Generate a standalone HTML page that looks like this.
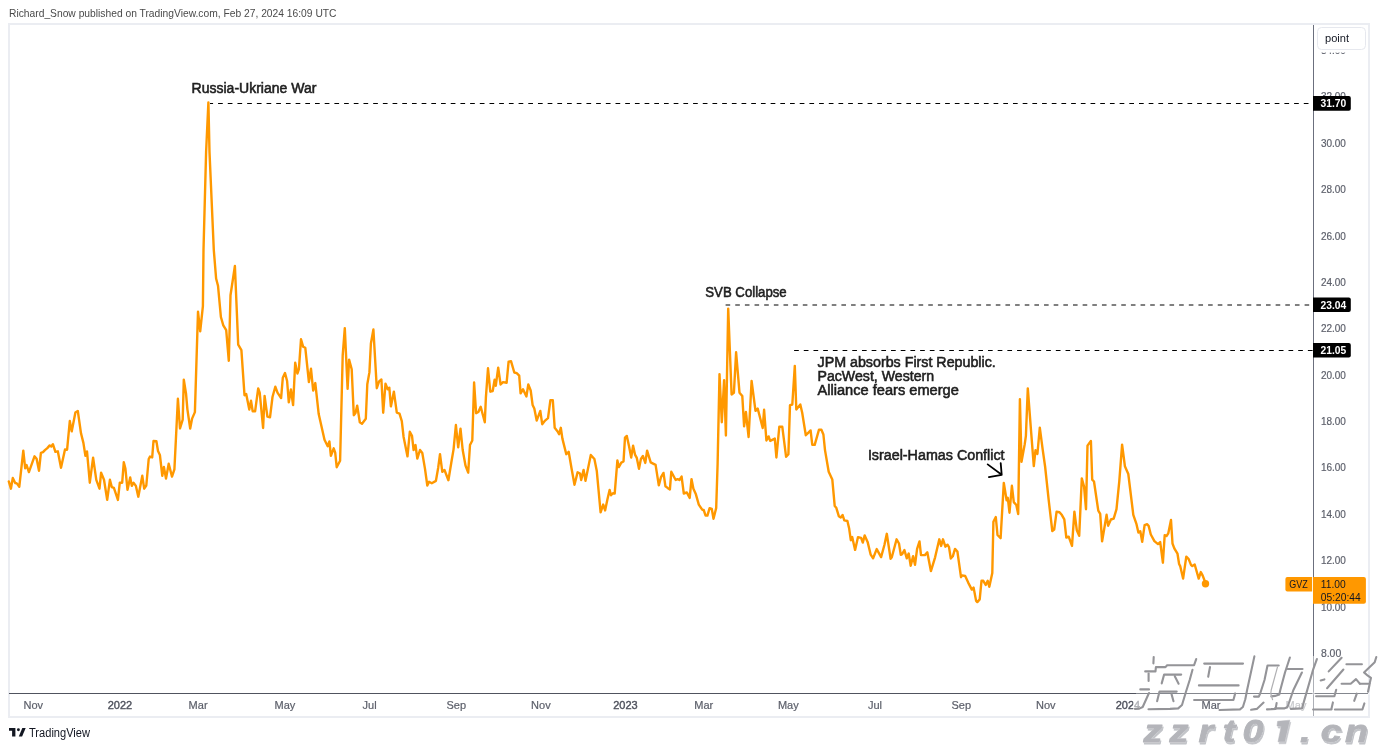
<!DOCTYPE html>
<html><head><meta charset="utf-8"><title>GVZ</title>
<style>
html,body{margin:0;padding:0;background:#fff;}
body{width:1378px;height:748px;overflow:hidden;position:relative;font-family:"Liberation Sans",sans-serif;}
svg{position:absolute;left:0;top:0;}
svg text{font-family:"Liberation Sans",sans-serif;}
</style></head><body>
<svg width="1378" height="748" viewBox="0 0 1378 748">
<defs>
<filter id="wm2" x="-5%" y="-20%" width="110%" height="150%">
  <feOffset in="SourceAlpha" dx="1.3" dy="1.5" result="o"/>
  <feComposite in="o" in2="SourceAlpha" operator="out" result="s"/>
  <feColorMatrix in="s" type="matrix" values="0 0 0 0 0.54  0 0 0 0 0.55  0 0 0 0 0.58  0 0 0 1 0" result="sc"/>
  <feMerge><feMergeNode in="sc"/><feMergeNode in="SourceGraphic"/></feMerge>
</filter>
<filter id="bl" x="-5%" y="-5%" width="110%" height="110%"><feGaussianBlur stdDeviation="0.75"/></filter>
<filter id="n" x="-2%" y="-20%" width="104%" height="140%"><feOffset dx="0" dy="0"/></filter>
</defs>
<rect x="0" y="0" width="1378" height="748" fill="#fff"/>
<!-- header -->
<text filter="url(#n)" x="9" y="16.7" font-size="11" fill="#4a4a4a" textLength="327.5" lengthAdjust="spacingAndGlyphs">Richard_Snow published on TradingView.com, Feb 27, 2024 16:09 UTC</text>
<!-- frame -->
<rect x="9" y="24" width="1360" height="693" fill="none" stroke="#ebedf2" stroke-width="2"/>

<text filter="url(#n)" x="1320.9" y="53.9" font-size="11" fill="#5d606b" stroke="#5d606b" stroke-width="0.2" textLength="25" lengthAdjust="spacingAndGlyphs">34.00</text>
<text filter="url(#n)" x="1320.9" y="100.3" font-size="11" fill="#5d606b" stroke="#5d606b" stroke-width="0.2" textLength="25" lengthAdjust="spacingAndGlyphs">32.00</text>
<text filter="url(#n)" x="1320.9" y="146.7" font-size="11" fill="#5d606b" stroke="#5d606b" stroke-width="0.2" textLength="25" lengthAdjust="spacingAndGlyphs">30.00</text>
<text filter="url(#n)" x="1320.9" y="193.1" font-size="11" fill="#5d606b" stroke="#5d606b" stroke-width="0.2" textLength="25" lengthAdjust="spacingAndGlyphs">28.00</text>
<text filter="url(#n)" x="1320.9" y="239.5" font-size="11" fill="#5d606b" stroke="#5d606b" stroke-width="0.2" textLength="25" lengthAdjust="spacingAndGlyphs">26.00</text>
<text filter="url(#n)" x="1320.9" y="285.8" font-size="11" fill="#5d606b" stroke="#5d606b" stroke-width="0.2" textLength="25" lengthAdjust="spacingAndGlyphs">24.00</text>
<text filter="url(#n)" x="1320.9" y="332.2" font-size="11" fill="#5d606b" stroke="#5d606b" stroke-width="0.2" textLength="25" lengthAdjust="spacingAndGlyphs">22.00</text>
<text filter="url(#n)" x="1320.9" y="378.6" font-size="11" fill="#5d606b" stroke="#5d606b" stroke-width="0.2" textLength="25" lengthAdjust="spacingAndGlyphs">20.00</text>
<text filter="url(#n)" x="1320.9" y="425.0" font-size="11" fill="#5d606b" stroke="#5d606b" stroke-width="0.2" textLength="25" lengthAdjust="spacingAndGlyphs">18.00</text>
<text filter="url(#n)" x="1320.9" y="471.4" font-size="11" fill="#5d606b" stroke="#5d606b" stroke-width="0.2" textLength="25" lengthAdjust="spacingAndGlyphs">16.00</text>
<text filter="url(#n)" x="1320.9" y="517.7" font-size="11" fill="#5d606b" stroke="#5d606b" stroke-width="0.2" textLength="25" lengthAdjust="spacingAndGlyphs">14.00</text>
<text filter="url(#n)" x="1320.9" y="564.1" font-size="11" fill="#5d606b" stroke="#5d606b" stroke-width="0.2" textLength="25" lengthAdjust="spacingAndGlyphs">12.00</text>
<text filter="url(#n)" x="1320.9" y="610.5" font-size="11" fill="#5d606b" stroke="#5d606b" stroke-width="0.2" textLength="25" lengthAdjust="spacingAndGlyphs">10.00</text>
<text filter="url(#n)" x="1320.9" y="656.9" font-size="11" fill="#5d606b" stroke="#5d606b" stroke-width="0.2" textLength="20.3" lengthAdjust="spacingAndGlyphs">8.00</text>
<rect x="1314" y="26" width="53" height="26.6" fill="#fff"/>
<rect x="1317.5" y="27.5" width="48" height="22" rx="4" ry="4" fill="#fff" stroke="#e6e8ee" stroke-width="1"/>
<text filter="url(#n)" x="1325" y="41.8" font-size="11" fill="#131722" textLength="24" lengthAdjust="spacingAndGlyphs">point</text>
<text filter="url(#n)" x="33.3" y="709" font-size="11" fill="#5d606b" text-anchor="middle" stroke="#5d606b" stroke-width="0.2">Nov</text>
<text filter="url(#n)" x="120" y="709" font-size="11" fill="#50535e" text-anchor="middle" stroke="#50535e" stroke-width="0.4">2022</text>
<text filter="url(#n)" x="198.1" y="709" font-size="11" fill="#5d606b" text-anchor="middle" stroke="#5d606b" stroke-width="0.2">Mar</text>
<text filter="url(#n)" x="284.9" y="709" font-size="11" fill="#5d606b" text-anchor="middle" stroke="#5d606b" stroke-width="0.2">May</text>
<text filter="url(#n)" x="369.6" y="709" font-size="11" fill="#5d606b" text-anchor="middle" stroke="#5d606b" stroke-width="0.2">Jul</text>
<text filter="url(#n)" x="456.3" y="709" font-size="11" fill="#5d606b" text-anchor="middle" stroke="#5d606b" stroke-width="0.2">Sep</text>
<text filter="url(#n)" x="540.9" y="709" font-size="11" fill="#5d606b" text-anchor="middle" stroke="#5d606b" stroke-width="0.2">Nov</text>
<text filter="url(#n)" x="625.4" y="709" font-size="11" fill="#50535e" text-anchor="middle" stroke="#50535e" stroke-width="0.4">2023</text>
<text filter="url(#n)" x="703.8" y="709" font-size="11" fill="#5d606b" text-anchor="middle" stroke="#5d606b" stroke-width="0.2">Mar</text>
<text filter="url(#n)" x="788.3" y="709" font-size="11" fill="#5d606b" text-anchor="middle" stroke="#5d606b" stroke-width="0.2">May</text>
<text filter="url(#n)" x="875" y="709" font-size="11" fill="#5d606b" text-anchor="middle" stroke="#5d606b" stroke-width="0.2">Jul</text>
<text filter="url(#n)" x="961.3" y="709" font-size="11" fill="#5d606b" text-anchor="middle" stroke="#5d606b" stroke-width="0.2">Sep</text>
<text filter="url(#n)" x="1045.8" y="709" font-size="11" fill="#5d606b" text-anchor="middle" stroke="#5d606b" stroke-width="0.2">Nov</text>
<text filter="url(#n)" x="1128" y="709" font-size="11" fill="#50535e" text-anchor="middle" stroke="#50535e" stroke-width="0.4">2024</text>
<text filter="url(#n)" x="1211" y="709" font-size="11" fill="#5d606b" text-anchor="middle" stroke="#5d606b" stroke-width="0.2">Mar</text>
<text filter="url(#n)" x="1296" y="709" font-size="11" fill="#5d606b" text-anchor="middle" stroke="#5d606b" stroke-width="0.2">May</text>
<line x1="9" y1="693.5" x2="1368" y2="693.5" stroke="#50535e" stroke-width="1"/>
<line x1="1313.5" y1="25" x2="1313.5" y2="716" stroke="#6b6f7d" stroke-width="1"/>
<line x1="210" y1="103.5" x2="1313" y2="103.5" stroke="#000" stroke-width="1" stroke-dasharray="4.7 4.994" stroke-dashoffset="1.62"/>
<line x1="725.6" y1="305" x2="1313" y2="305" stroke="#000" stroke-width="1" stroke-dasharray="4.6 5.05"/>
<line x1="794.1" y1="350.5" x2="1313" y2="350.5" stroke="#000" stroke-width="1" stroke-dasharray="4.7 4.994"/>
<polyline points="8.8,481.4 10.9,488.7 12.8,477.9 15.2,483.0 16.8,483.4 19.3,486.7 23.3,450.6 25.2,468.3 26.6,465.0 28.9,472.1 34.5,456.3 36.6,458.7 39.0,470.7 40.9,452.9 43.0,452.2 44.9,450.2 47.3,448.1 49.7,445.4 51.3,446.5 52.9,444.2 55.4,451.8 57.8,451.3 61.0,467.8 65.0,449.4 67.1,449.7 69.8,421.0 71.7,431.4 75.4,412.5 77.8,410.9 81.0,433.3 83.4,442.9 85.4,455.8 87.0,451.4 89.8,482.7 93.1,457.7 96.3,479.8 99.5,488.7 101.1,472.6 104.0,479.8 107.2,499.9 109.9,479.8 111.8,487.1 113.9,487.9 117.9,499.9 119.8,482.7 122.2,482.7 123.8,462.2 125.4,468.6 127.5,489.8 130.2,477.4 131.8,485.9 133.5,482.7 135.9,485.9 138.3,496.7 142.3,475.8 144.2,488.7 146.3,485.5 148.7,459.0 150.0,456.6 152.2,457.4 153.5,441.0 156.4,441.3 158.0,451.0 159.9,455.0 162.3,475.8 163.9,467.0 166.0,478.6 168.7,463.8 172.0,476.6 174.4,469.4 177.9,398.8 180.0,428.5 182.7,419.7 183.8,379.6 186.0,393.4 187.4,409.3 190.2,428.5 192.1,418.6 194.9,412.1 198.0,311.7 200.2,331.4 202.9,306.2 203.5,250.0 206.1,152.0 208.4,102.4 209.5,152.0 213.8,250.0 216.1,278.5 218.0,285.7 220.9,317.0 223.3,325.4 226.2,330.2 228.8,360.8 230.5,295.3 234.9,266.0 238.2,344.7 241.4,350.2 244.5,395.2 246.2,394.0 249.3,409.6 251.0,400.7 252.7,411.3 255.1,411.3 258.2,388.4 259.7,392.7 263.1,428.0 264.6,395.9 267.4,416.7 270.0,417.3 272.5,397.0 275.3,386.7 277.5,392.7 281.1,398.1 282.8,377.8 285.0,373.0 287.1,381.0 288.8,402.4 290.9,389.5 293.1,405.1 295.2,362.8 297.4,373.5 298.9,369.2 301.0,339.3 303.1,346.7 305.3,347.8 308.9,382.0 311.0,368.8 313.2,390.6 315.3,383.1 318.7,414.1 324.5,439.8 327.7,446.2 329.4,441.5 330.9,455.8 333.7,448.3 335.2,452.6 336.7,467.2 340.1,460.7 342.7,355.3 344.8,328.1 347.6,388.9 349.1,359.6 351.7,369.2 353.8,415.2 355.5,413.0 357.2,405.6 359.8,422.2 362.0,423.7 365.8,418.8 367.3,384.2 369.4,372.4 370.9,343.5 373.4,329.5 376.8,388.2 379.1,381.4 381.4,379.5 383.2,412.7 385.5,383.6 387.7,389.3 389.3,387.7 390.9,406.4 393.9,391.6 396.8,412.7 399.5,413.6 401.8,421.1 403.6,437.0 407.5,456.4 409.8,431.8 412.0,435.9 413.6,450.0 415.5,445.0 417.3,458.6 420.0,450.0 422.3,453.0 425.0,468.9 427.3,485.5 429.1,481.8 431.8,483.2 435.9,480.9 438.2,467.7 440.0,454.1 442.3,471.8 444.5,470.0 448.4,480.2 451.4,462.0 453.6,449.1 455.9,425.0 458.2,447.3 460.5,428.6 462.7,450.0 465.5,465.5 468.2,472.7 470.0,445.0 472.3,440.5 474.1,382.5 476.1,413.2 478.4,412.0 480.7,406.8 483.0,415.5 484.8,422.3 485.9,397.3 488.0,368.3 490.3,391.7 492.7,391.0 494.6,379.7 495.8,385.7 498.2,367.7 500.6,384.5 503.0,382.1 506.6,382.8 508.6,361.6 511.0,361.2 514.3,372.5 516.7,373.2 519.2,375.6 520.6,393.4 523.0,389.3 526.4,396.5 528.3,384.5 530.7,390.5 532.6,404.9 534.3,408.5 536.7,420.6 540.3,410.9 542.2,424.2 545.1,420.6 548.0,418.2 550.4,400.1 552.8,400.1 554.7,427.8 557.6,431.4 559.1,434.3 560.8,427.8 562.4,438.6 566.3,454.2 568.7,451.8 571.6,468.7 574.5,484.8 577.6,472.3 580.0,473.5 581.2,480.0 583.6,469.9 585.5,480.7 590.8,455.0 594.4,459.0 596.8,471.1 600.6,512.4 603.2,504.6 605.1,510.4 607.4,499.4 609.6,489.9 611.0,495.3 612.9,493.2 614.7,493.5 617.4,460.4 618.8,467.1 621.3,462.6 623.5,461.5 625.0,437.6 626.8,435.9 629.1,446.5 631.2,457.5 633.1,445.7 635.0,454.6 636.8,457.9 639.0,468.8 640.9,459.0 642.9,456.0 645.3,462.9 647.1,450.6 650.7,462.4 652.6,463.4 655.6,464.9 658.8,485.4 661.0,477.1 663.5,472.9 665.4,486.2 667.6,487.9 669.9,489.4 671.3,471.8 675.7,480.0 677.6,479.1 679.4,480.0 681.6,476.6 683.8,493.5 686.8,492.4 689.7,497.9 691.5,479.1 693.4,488.8 695.9,494.3 698.8,504.6 702.2,509.7 703.7,510.0 705.6,515.6 707.4,515.6 709.6,508.2 711.8,509.0 713.5,518.8 716.2,507.9 717.6,464.1 719.5,374.1 721.8,422.3 724.1,380.2 725.9,435.5 728.2,308.6 731.6,394.5 733.9,392.7 736.1,352.3 739.5,392.7 742.3,396.1 744.1,426.4 745.9,412.0 748.6,437.0 751.6,380.9 755.5,410.9 757.7,408.6 759.5,415.5 762.7,428.0 764.1,409.8 766.4,440.5 768.6,436.4 770.2,440.9 774.8,438.6 776.4,457.5 779.3,426.8 782.3,426.8 786.1,456.8 788.4,454.1 790.0,405.2 792.3,404.5 794.8,365.9 796.3,409.5 800.3,404.4 802.2,412.8 805.8,435.2 808.2,432.8 810.6,430.4 812.3,444.8 814.7,444.8 819.0,429.7 821.4,429.7 823.4,434.5 825.0,450.1 828.7,471.7 832.3,479.4 834.7,505.9 836.3,507.8 838.8,516.2 840.7,517.4 842.6,515.0 844.3,520.3 847.4,521.0 849.1,528.2 850.8,540.2 852.2,537.1 855.1,549.9 858.0,537.1 861.1,537.8 862.8,542.6 864.7,535.4 867.6,541.9 870.7,554.7 873.1,558.3 876.7,549.1 881.1,557.1 884.4,545.0 886.8,533.8 890.6,558.8 891.8,557.3 896.6,539.3 899.0,543.5 900.8,554.9 902.0,554.3 904.4,550.1 906.8,558.3 908.7,553.5 910.7,565.7 913.1,556.1 915.0,564.8 917.1,548.9 919.5,541.4 921.0,555.1 924.9,555.1 927.3,552.3 930.9,571.1 935.1,557.3 939.3,539.3 941.1,545.9 943.0,539.3 945.4,546.7 947.5,544.7 949.0,547.1 950.8,558.5 952.8,556.3 955.0,548.9 957.4,551.5 961.0,577.2 962.2,575.4 965.2,576.0 968.2,582.6 971.8,589.6 973.6,587.6 976.1,600.9 977.3,602.1 979.7,599.4 981.5,580.8 983.3,580.8 985.7,585.0 987.7,580.8 989.3,586.8 992.3,573.0 993.4,521.8 995.8,517.0 997.5,535.0 1000.6,538.2 1003.8,482.9 1006.6,500.2 1007.8,497.8 1009.5,512.7 1011.9,485.8 1013.8,502.1 1016.3,505.0 1018.2,514.1 1019.9,399.2 1021.5,461.7 1024.7,444.4 1025.9,435.8 1027.8,388.4 1031.2,432.9 1033.8,466.1 1035.5,450.2 1037.4,454.0 1039.8,427.6 1042.7,449.7 1045.1,466.5 1048.7,500.2 1052.3,531.0 1054.2,529.5 1056.6,511.7 1059.5,512.2 1061.9,515.1 1064.3,519.4 1066.3,537.5 1068.7,536.7 1072.0,545.9 1074.4,511.7 1076.8,530.2 1079.2,535.8 1081.8,478.4 1084.1,486.8 1086.0,509.2 1087.5,445.6 1090.9,440.9 1092.2,479.7 1094.0,481.5 1098.3,510.7 1100.2,513.9 1102.1,541.4 1106.6,514.8 1108.1,525.7 1110.9,519.5 1113.7,518.6 1116.5,509.2 1119.3,481.1 1122.1,444.7 1124.9,466.2 1128.3,474.0 1133.3,514.8 1136.5,524.2 1138.4,532.6 1140.3,531.3 1142.2,541.8 1144.6,525.2 1147.2,524.2 1148.7,526.1 1150.8,534.5 1154.4,541.1 1158.0,544.1 1160.2,542.1 1162.9,562.7 1164.7,535.1 1166.5,536.0 1168.3,533.3 1171.0,520.0 1172.5,543.5 1174.3,548.3 1177.5,553.7 1179.1,564.0 1180.3,566.4 1183.1,578.6 1186.3,556.7 1188.7,559.1 1191.1,565.1 1192.3,566.1 1194.7,564.5 1198.7,578.6 1200.8,572.1 1202.6,575.4 1205.6,583.2" fill="none" stroke="#ff9800" stroke-width="2.4" stroke-linejoin="round" stroke-linecap="round"/>
<circle cx="1205.5" cy="583.8" r="3.7" fill="#ff9800"/>
<path d="M987.7 464.4 L1001.7 474.8 M988.9 477.2 L1001.7 474.8 L1000.7 463.2" fill="none" stroke="#000" stroke-width="1.8" stroke-linecap="round" stroke-linejoin="round"/>
<text filter="url(#n)" x="191.6" y="92.6" font-size="14" fill="#1e1e1e" stroke="#1e1e1e" stroke-width="0.55" textLength="124.8" lengthAdjust="spacingAndGlyphs">Russia-Ukriane War</text>
<text filter="url(#n)" x="705.3" y="296.7" font-size="14" fill="#1e1e1e" stroke="#1e1e1e" stroke-width="0.55" textLength="81.4" lengthAdjust="spacingAndGlyphs">SVB Collapse</text>
<text filter="url(#n)" x="817.5" y="367.4" font-size="14" fill="#1e1e1e" stroke="#1e1e1e" stroke-width="0.55" textLength="178.3" lengthAdjust="spacingAndGlyphs">JPM absorbs First Republic.</text>
<text filter="url(#n)" x="817.5" y="381.1" font-size="14" fill="#1e1e1e" stroke="#1e1e1e" stroke-width="0.55" textLength="116.6" lengthAdjust="spacingAndGlyphs">PacWest, Western</text>
<text filter="url(#n)" x="817.5" y="394.9" font-size="14" fill="#1e1e1e" stroke="#1e1e1e" stroke-width="0.55" textLength="141.3" lengthAdjust="spacingAndGlyphs">Alliance fears emerge</text>
<text filter="url(#n)" x="867.9" y="460" font-size="14" fill="#1e1e1e" stroke="#1e1e1e" stroke-width="0.55" textLength="136.7" lengthAdjust="spacingAndGlyphs">Israel-Hamas Conflict</text>
<path d="M1313 96 H1348.8 Q1350.8 96 1350.8 98 V108.7 Q1350.8 110.7 1348.8 110.7 H1313 Z" fill="#000"/>
<text filter="url(#n)" x="1320.5" y="107.2" font-size="11" font-weight="bold" fill="#fff" textLength="25.7" lengthAdjust="spacingAndGlyphs">31.70</text>
<path d="M1313 297.6 H1348.8 Q1350.8 297.6 1350.8 299.6 V310 Q1350.8 312 1348.8 312 H1313 Z" fill="#000"/>
<text filter="url(#n)" x="1320.5" y="308.7" font-size="11" font-weight="bold" fill="#fff" textLength="25.7" lengthAdjust="spacingAndGlyphs">23.04</text>
<path d="M1313 342.9 H1348.8 Q1350.8 342.9 1350.8 344.9 V355.4 Q1350.8 357.4 1348.8 357.4 H1313 Z" fill="#000"/>
<text filter="url(#n)" x="1320.5" y="354.0" font-size="11" font-weight="bold" fill="#fff" textLength="25.7" lengthAdjust="spacingAndGlyphs">21.05</text>
<path d="M1287.4 577.1 H1312.1 V591.6 H1287.4 Q1285.4 591.6 1285.4 589.6 V579.1 Q1285.4 577.1 1287.4 577.1 Z" fill="#ff9800"/>
<text filter="url(#n)" x="1289.2" y="588" font-size="11" fill="#131722" textLength="18.5" lengthAdjust="spacingAndGlyphs">GVZ</text>
<path d="M1313 577.1 H1363.9 Q1365.9 577.1 1365.9 579.1 V601.7 Q1365.9 603.7 1363.9 603.7 H1313 Z" fill="#ff9800"/>
<text filter="url(#n)" x="1320.8" y="587.8" font-size="11" fill="#131722" textLength="25" lengthAdjust="spacingAndGlyphs">11.00</text>
<text filter="url(#n)" x="1320.8" y="600.5" font-size="11" fill="#131722" textLength="39.9" lengthAdjust="spacingAndGlyphs">05:20:44</text>
<path d="M9 728.1 H15.4 V736.4 H12.1 V730.8 H9 Z" fill="#131722"/><circle cx="18.4" cy="729.7" r="1.45" fill="#131722"/><path d="M22.3 728.1 H25.7 L22.1 736.4 H18.8 Z" fill="#131722"/>
<text filter="url(#n)" x="29" y="737" font-size="12" fill="#131722" textLength="61" lengthAdjust="spacingAndGlyphs">TradingView</text>
<rect x="1136" y="692" width="242" height="3" fill="#fff" fill-opacity="0.3"/>
<rect x="1312" y="656" width="3" height="60" fill="#fff" fill-opacity="0.45"/>
<rect x="1286" y="699" width="22" height="12" fill="#fff" fill-opacity="0.65"/>
<rect x="1133" y="699" width="8" height="12" fill="#fff" fill-opacity="0.55"/>
<g fill="none" stroke="#949498" stroke-width="2.1" stroke-linejoin="round" stroke-linecap="round" filter="url(#bl)"><polyline points="1153.7,657 1153.4,663.4"/><polyline points="1145.2,671.4 1155.5,671.4 1155.9,667.1 1165.5,667.1 1167.1,665.2 1194.1,665.2 1196.2,659.1"/><polyline points="1148.6,673.5 1148.6,681"/><polyline points="1161.7,683.4 1164.1,674.6 1181.2,674.6"/><polyline points="1174.8,676.2 1178.6,683.7"/><polyline points="1140.3,689.4 1149,689.4"/><polyline points="1149,693 1142.7,707 1139.3,708.6 1135,708.9"/><polyline points="1157.1,701.2 1159.5,691.6 1176.7,691.6"/><polyline points="1171.6,694.4 1173.5,701.2"/><polyline points="1192.5,669.8 1189.7,680 1185.9,692 1182,705 1178.2,708.4 1170,708.9 1148.5,709.2"/><polyline points="1204.2,663.6 1243,663.6"/><polyline points="1210,667 1208.2,676.7"/><polyline points="1198.9,685.4 1238.6,685.4"/><polyline points="1194.1,700 1233.4,700 1235.2,693.4"/><polyline points="1254.4,656.4 1247.1,690 1245.3,699.3 1242.9,707 1240,709.4 1219.5,710"/><polyline points="1254,696.6 1258.8,696.6 1260.2,693.5 1264.5,680 1267.5,665.5 1278.7,665.5"/><polyline points="1289.9,657.5 1285,672.5 1280.3,690 1279.3,694.4 1275,695.9 1271.3,696.4"/><polyline points="1263.6,702.6 1256.8,708.9 1251.1,709.8"/><polyline points="1276.6,703.1 1275.6,708.9 1267,709.4"/><polyline points="1287.5,669 1302.5,669"/><polyline points="1301.9,672.5 1293.4,690 1287.5,707 1284.6,708.4 1275,708.4"/><polyline points="1316.9,659.1 1313.2,669.3 1302,708.4 1290.9,708.9"/><polyline points="1341.6,657.8 1328.7,671.4"/><polyline points="1343.4,669.5 1327.1,688.2"/><polyline points="1320.7,680.5 1324.4,679.4"/><polyline points="1346.4,664.2 1361.9,664.2"/><polyline points="1376.3,657 1374.7,662.3 1364,672.4 1367.8,675.7 1371,677.8 1369.9,682.6"/><polyline points="1359.8,683.7 1369.9,683.7"/><polyline points="1341.6,683.7 1350.7,683.7 1356,679.1 1359.8,683.7"/><polyline points="1369.5,685.1 1368,691.7"/><polyline points="1316.1,696.3 1334.4,696.3 1336.2,689.7"/><polyline points="1356.8,693.7 1354.2,700.8"/><polyline points="1332.9,702.4 1331.4,709"/><polyline points="1313.1,709.5 1331.4,709.5"/><polyline points="1334.9,709.5 1362.4,709.5 1364.4,703.4"/></g>
<g fill="none" stroke="#b0b0b3" stroke-width="1.2" stroke-linejoin="round" filter="url(#bl)"><polyline points="1277.6,666.6 1271.2,690 1270.8,693.5 1272.7,700.2"/></g>
<g filter="url(#wm2)"><text transform="translate(1143.50 741.6) scale(1.22 1)" font-size="31" font-weight="bold" font-style="italic" fill="#b4b5ba" stroke="#b4b5ba" stroke-width="0.8" stroke-linejoin="round">z</text><text transform="translate(1169.60 741.6) scale(1.22 1)" font-size="31" font-weight="bold" font-style="italic" fill="#b4b5ba" stroke="#b4b5ba" stroke-width="0.8" stroke-linejoin="round">z</text><text transform="translate(1198.40 741.6) scale(1.22 1)" font-size="31" font-weight="bold" font-style="italic" fill="#b4b5ba" stroke="#b4b5ba" stroke-width="0.8" stroke-linejoin="round">r</text><text transform="translate(1222.70 741.6) scale(1.22 1)" font-size="31" font-weight="bold" font-style="italic" fill="#b4b5ba" stroke="#b4b5ba" stroke-width="0.8" stroke-linejoin="round">t</text><text transform="translate(1242.50 741.6) scale(1.22 1)" font-size="31" font-weight="bold" font-style="italic" fill="#b4b5ba" stroke="#b4b5ba" stroke-width="0.8" stroke-linejoin="round">0</text><path d="M1277.6 721.3 L1289.8 720.2 L1284.8 741.8 L1278.0 741.8 L1281.2 726.4 L1277.0 726.0 Z" fill="#b4b5ba" stroke="#b4b5ba" stroke-width="0.5" stroke-linejoin="round"/><text transform="translate(1300.00 741.6) scale(1.22 1)" font-size="31" font-weight="bold" font-style="italic" fill="#b4b5ba" stroke="#b4b5ba" stroke-width="0.8" stroke-linejoin="round">.</text><text transform="translate(1320.80 741.6) scale(1.22 1)" font-size="31" font-weight="bold" font-style="italic" fill="#b4b5ba" stroke="#b4b5ba" stroke-width="0.8" stroke-linejoin="round">c</text><text transform="translate(1345.00 741.6) scale(1.22 1)" font-size="31" font-weight="bold" font-style="italic" fill="#b4b5ba" stroke="#b4b5ba" stroke-width="0.8" stroke-linejoin="round">n</text></g>
</svg>
</body></html>
